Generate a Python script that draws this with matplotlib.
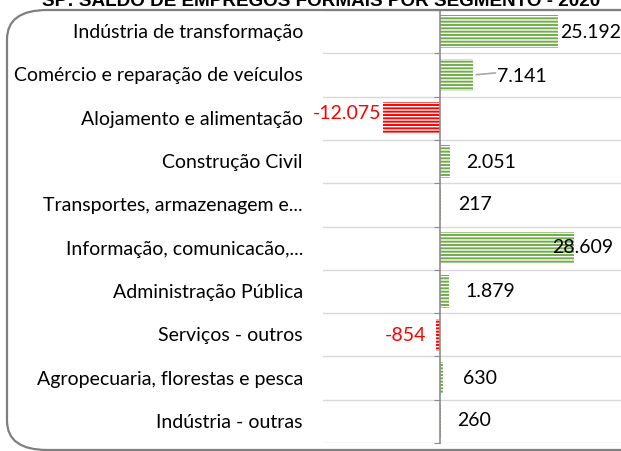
import matplotlib.pyplot as plt
from matplotlib.patches import FancyBboxPatch
import numpy as np

plt.rcParams['font.family'] = ['Lato', 'DejaVu Sans']
plt.rcParams['hatch.linewidth'] = 1.4

# saldo de empregos formais por segmento
segmentos = ['Indústria de transformação', 'Comércio e reparação de veículos',
             'Alojamento e alimentação', 'Construção Civil',
             'Transportes, armazenagem e...', 'Informação, comunicacão,...',
             'Administração Pública', 'Serviços - outros',
             'Agropecuaria, florestas e pesca', 'Indústria - outras']
saldo = [25192, 7141, -12075, 2051, 217, 28609, 1879, -854, 630, 260]

# deslocamento dos rótulos (pixels a partir do fim da barra, x / y)
rot_dx = [2, 24, -2, 17, 17, -22, 17, -10, 20, 16]
rot_dy = [0, 1, -6, 0, -1, -2, -1, 0, -1, -2]

verde = '#70AD47'
vermelho = '#FF0000'

fig = plt.figure(figsize=(6.21, 4.52), dpi=100)
W, H = 621, 452

# moldura arredondada
moldura = FancyBboxPatch((7 / W, 1 / H), 700 / W, (H - 12) / H,
                         boxstyle='round,pad=0,rounding_size=0.065',
                         transform=fig.transFigure, facecolor='none',
                         edgecolor='#7f7f7f', linewidth=1.6, clip_on=False)
fig.patches.append(moldura)

fig.text(321 / W, 1 - 6 / H, 'SP: SALDO DE EMPREGOS FORMAIS POR SEGMENTO - 2020',
         ha='center', va='baseline', fontsize=13.6, fontweight='bold',
         family='Liberation Sans')

ax = fig.add_axes([323 / W, 1 - 444 / H, 1 - 323 / W, 433 / H])
ax.set_facecolor('none')

n = len(segmentos)
y = np.arange(n)
cores = [verde if v >= 0 else vermelho for v in saldo]
ax.barh(y, saldo, height=0.75, color='white', edgecolor=cores,
        hatch='-----', linewidth=0, zorder=2)

ax.set_xlim(-24973, 38634)
ax.set_ylim(n - 0.5, -0.5)

# linhas de grade entre categorias
for b in np.arange(-0.5, n, 1.0):
    ax.axhline(b, color='#d9d9d9', linewidth=1.0, zorder=1)

ax.spines[['top', 'right', 'bottom']].set_visible(False)
ax.spines['left'].set_position(('data', 0))
ax.spines['left'].set_color('#8c8c8c')
ax.spines['left'].set_linewidth(1.2)
ax.spines['left'].set_zorder(3)
ax.set_yticks(np.arange(-0.5, n, 1.0))
ax.set_yticklabels([])
ax.tick_params(axis='y', length=4, color='#8c8c8c', direction='out')
ax.set_xticks([])

for i, nome in enumerate(segmentos):
    ax.text(-20 / 298, i, nome, transform=ax.get_yaxis_transform(),
            ha='right', va='center', fontsize=14, color='black')

for i, v in enumerate(saldo):
    txt = f'{v:,}'.replace(',', '.')
    ha = 'left' if v >= 0 else 'right'
    cor = 'black' if v >= 0 else vermelho
    ax.annotate(txt, (v, i), xytext=(rot_dx[i] * 0.72, -rot_dy[i] * 0.72),
                textcoords='offset points', ha=ha, va='center',
                fontsize=14, color=cor, zorder=4)

# linha de chamada do rótulo de comércio
ax.annotate('', (saldo[1], 1), xytext=(22 * 0.72, 2 * 0.72),
            textcoords='offset points',
            arrowprops=dict(arrowstyle='-', color='#a6a6a6', lw=1.2,
                            shrinkA=0, shrinkB=2))

fig.savefig('out.png', dpi=100)
